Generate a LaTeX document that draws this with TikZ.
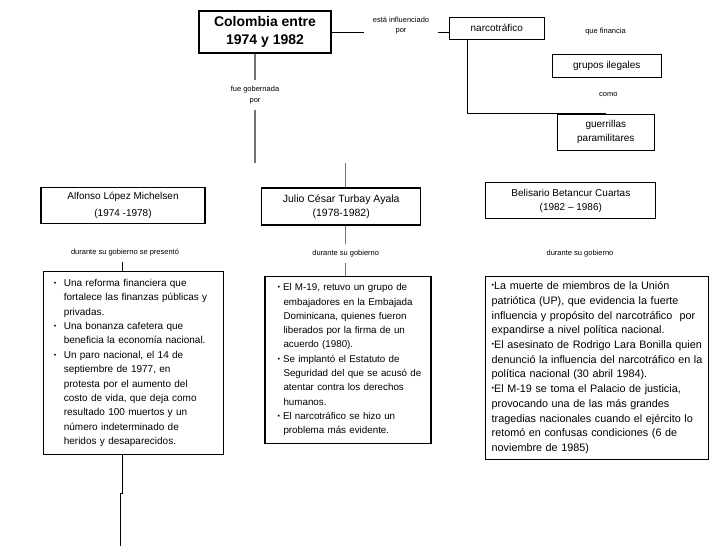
\documentclass[tikz,border=0pt]{standalone}
\usepackage{fontspec}
\setmainfont{Liberation Sans}
\usetikzlibrary{calc, positioning}

\begin{document}
\begin{tikzpicture}[
    x=1pt, y=-1pt,
    every node/.style={
        inner sep=0pt,
        align=center
    },
    base/.style={draw=black, line width=1.1pt, fill=white},
    title/.style={base, font=\fontsize{14}{18}\selectfont\bfseries},
    ruler/.style={base, font=\fontsize{10}{14}\selectfont},
    topic/.style={base, font=\fontsize{10}{14}\selectfont},
    events/.style={base, align=left, font=\fontsize{10}{14.4}\selectfont},
    link/.style={font=\fontsize{7.5}{10.5}\selectfont, inner xsep=9pt, inner ysep=6pt},
    conn/.style={line width=1pt, draw=black},
    faded conn/.style={line width=1.3pt, draw=black!55}
]
\useasboundingbox (0,0) rectangle (728,546);

% Central topic
\node[title, minimum width=132pt, minimum height=42pt] (colombia) at (265,32) {Colombia entre\\1974 y 1982};

% Narcotrafico branch
\node[topic, minimum width=95pt, minimum height=22pt] (narco) at (496.8,28.3) {narcotráfico};
\node[topic, minimum width=109pt, minimum height=23pt] (grupos) at (606.8,65.8) {grupos ilegales};
\node[topic, minimum width=97pt, minimum height=36pt] (guerrillas) at (605.8,132.3) {guerrillas\\paramilitares};

% Presidents
\node[ruler, font=\fontsize{10}{17.5}\selectfont, minimum width=164pt, minimum height=36pt] (lopez) at (123,205.3) {Alfonso López Michelsen\\(1974 -1978)};
\node[ruler, font=\fontsize{10.5}{13.5}\selectfont, minimum width=159pt, minimum height=37pt] (turbay) at (341.2,206.5) {Julio César Turbay Ayala\\(1978-1982)};
\node[ruler, minimum width=170pt, minimum height=35.6pt] (betancur) at (570.8,200.5) {Belisario Betancur Cuartas\\(1982 – 1986)};

% Link labels
\node[link] (influenciado) at (401,25.5) {está influenciado\\por};
\node[link] (gobernada) at (255,95) {fue gobernada\\por};
\node[link] (financia) at (605.5,31.7) {que financia};
\node[link] (como) at (608.3,95) {como};
\node[link] (lopez_lbl) at (125,252.7) {durante su gobierno se presentó};
\node[link] (turbay_lbl) at (345.7,253.3) {durante su gobierno};
\node[link] (betancur_lbl) at (580,253.3) {durante su gobierno};

% Events of each government
\node[events, inner xsep=10.5pt, text width=159pt, minimum height=183pt] (lopez_events) at (133.3,363) {%
\makebox[10pt][l]{\raisebox{1pt}{\scriptsize•}}Una reforma financiera que\\
\hspace*{10pt}fortalece las finanzas públicas y\\
\hspace*{10pt}privadas.\\
\makebox[10pt][l]{\raisebox{1pt}{\scriptsize•}}Una bonanza cafetera que\\
\hspace*{10pt}beneficia la economía nacional.\\
\makebox[10pt][l]{\raisebox{1pt}{\scriptsize•}}Un paro nacional, el 14 de\\
\hspace*{10pt}septiembre de 1977, en\\
\hspace*{10pt}protesta por el aumento del\\
\hspace*{10pt}costo de vida, que deja como\\
\hspace*{10pt}resultado 100 muertos y un\\
\hspace*{10pt}número indeterminado de\\
\hspace*{10pt}heridos y desaparecidos.};

\node[events, font=\fontsize{9.8}{14.3}\selectfont, inner xsep=12.5pt, text width=141pt, minimum height=167pt] (turbay_events) at (348,359.7) {%
\makebox[5.5pt][l]{\raisebox{1.2pt}{\scriptsize•}}El M-19, retuvo un grupo de\\
\hspace*{6pt}embajadores en la Embajada\\
\hspace*{6pt}Dominicana, quienes fueron\\
\hspace*{6pt}liberados por la firma de un\\
\hspace*{6pt}acuerdo (1980).\\
\makebox[5.5pt][l]{\raisebox{1.2pt}{\scriptsize•}}Se implantó el Estatuto de\\
\hspace*{6pt}\mbox{Seguridad del que se acusó de}\\
\hspace*{6pt}atentar contra los derechos\\
\hspace*{6pt}humanos.\\
\makebox[5.5pt][l]{\raisebox{1.2pt}{\scriptsize•}}El narcotráfico se hizo un\\
\hspace*{6pt}problema más evidente.};

\node[events, font=\fontsize{10.8}{14.7}\selectfont, inner xsep=6.5pt, text width=210pt, minimum height=183.3pt] (betancur_events) at (596.7,367.7) {%
\raisebox{1.8pt}{\scriptsize•}La muerte de miembros de la Unión\\
patriótica (UP), que evidencia la fuerte\\
\mbox{influencia y propósito del narcotráfico\ \ por}\\
expandirse a nivel política nacional.\\
\raisebox{1.8pt}{\scriptsize•}\mbox{El asesinato de Rodrigo Lara Bonilla quien}\\
\mbox{denunció la influencia del narcotráfico en la}\\
política nacional (30 abril 1984).\\
\raisebox{1.8pt}{\scriptsize•}El M-19 se toma el Palacio de justicia,\\
provocando una de las más grandes\\
\mbox{tragedias nacionales cuando el ejército lo}\\
retomó en confusas condiciones (6 de\\
noviembre de 1985)};

% Free ends
\coordinate (gob_end) at (255,163);
\coordinate (turbay_top) at (345.7,163);
\coordinate (lopez_jog) at (122,493);
\coordinate (lopez_end) at (120.5,546);

% Edges
\draw[conn] (colombia.east) -- (colombia.east -| influenciado.west);
\draw[conn] (influenciado.east |- colombia.east) -- (narco.west |- colombia.east);
\draw[conn] ([xshift=-29.5pt]narco.south) |- (guerrillas.north);
\draw[faded conn] (colombia.south -| gobernada.north) -- (gobernada.north);
\draw[faded conn] (gobernada.south) -- (gob_end);
\draw[faded conn] (turbay_top) -- (turbay.north -| turbay_top);
\draw[faded conn] (turbay.south -| turbay_lbl.north) -- (turbay_lbl.north);
\draw[faded conn] (turbay_lbl.south) -- (turbay_events.north -| turbay_lbl.south);
\draw[conn] (lopez_lbl.south -| lopez_jog) -- (lopez_events.north -| lopez_jog);
\draw[conn] (lopez_events.south -| lopez_jog) -- (lopez_jog) -- (lopez_jog -| lopez_end) -- (lopez_end);

\end{tikzpicture}
\end{document}
